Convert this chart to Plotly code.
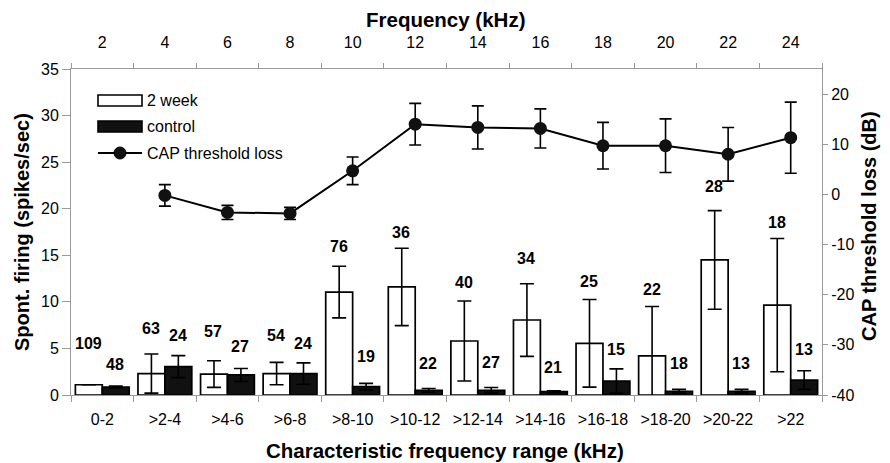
import plotly.graph_objects as go

categories = ["0-2", ">2-4", ">4-6", ">6-8", ">8-10", ">10-12", ">12-14",
              ">14-16", ">16-18", ">18-20", ">20-22", ">22"]
week2_rate = [1.1, 2.3, 2.25, 2.3, 11.05, 11.6, 5.8, 8.05, 5.55, 4.2, 14.5, 9.65]
week2_err = [0.0, 2.1, 1.43, 1.2, 2.77, 4.15, 4.3, 3.9, 4.7, 5.3, 5.3, 7.15]
control_rate = [0.85, 3.05, 2.15, 2.3, 0.9, 0.5, 0.5, 0.36, 1.5, 0.4, 0.4, 1.6]
control_err = [0.1, 1.18, 0.7, 1.15, 0.35, 0.2, 0.3, 0.1, 1.3, 0.2, 0.2, 1.0]
week2_n = [109, 63, 57, 54, 76, 36, 40, 34, 25, 22, 28, 18]
control_n = [48, 24, 27, 24, 19, 22, 27, 21, 15, 18, 13, 13]

cap_freq = [4, 6, 8, 10, 12, 14, 16, 18, 20, 22, 24]
cap_loss = [-0.2, -3.6, -3.8, 4.7, 14.0, 13.35, 13.15, 9.7, 9.7, 8.0, 11.3]
cap_err = [2.15, 1.4, 1.2, 2.75, 4.15, 4.3, 3.9, 4.65, 5.35, 5.35, 7.1]

top_ticks = [2, 4, 6, 8, 10, 12, 14, 16, 18, 20, 22, 24]
right_ticks = [-40, -30, -20, -10, 0, 10, 20]

# label pixel offsets above error-bar tops (style only)
white_shift = [41, 26, 29, 27, 20, 16, 18, 25, 18, 17, 24, 16]
black_shift = [22, 20, 22, 19, 27, 25, 25, 23, 19, 26, 26, 21]

FONT = "Liberation Sans, Arial, sans-serif"
AX = "#9a9a9a"

W, H = 890, 463
L, R, T, B = 71, 68, 69, 68
pw, ph = W - L - R, H - T - B


def px2paper(x, y):
    return (x - L) / pw, (H - B - y) / ph


fig = go.Figure()
fig.add_trace(go.Bar(
    x=categories, y=week2_rate, name="2 week",
    marker=dict(color="white", line=dict(color="black", width=1.7)),
    error_y=dict(type="data", array=week2_err, color="black", thickness=1.6, width=7),
    showlegend=False,
))
fig.add_trace(go.Bar(
    x=categories, y=control_rate, name="control",
    marker=dict(color="#111111", line=dict(color="black", width=1.7)),
    error_y=dict(type="data", array=control_err, color="black", thickness=1.6, width=7),
    showlegend=False,
))
fig.add_trace(go.Scatter(
    x=cap_freq, y=cap_loss, xaxis="x2", yaxis="y2", mode="lines+markers",
    name="CAP threshold loss",
    line=dict(color="black", width=2),
    marker=dict(color="#111111", size=13, symbol="circle"),
    error_y=dict(type="data", array=cap_err, color="black", thickness=1.6, width=6),
    showlegend=False,
))

annotations = []
for i, c in enumerate(categories):
    annotations.append(dict(
        x=c, y=week2_rate[i] + week2_err[i], xref="x", yref="y",
        text=str(week2_n[i]), showarrow=False, xshift=-14, yshift=white_shift[i],
        font=dict(family=FONT, size=16, color="black", weight="bold"),
        yanchor="middle", xanchor="center"))
    annotations.append(dict(
        x=c, y=control_rate[i] + control_err[i], xref="x", yref="y",
        text=str(control_n[i]), showarrow=False, xshift=13, yshift=black_shift[i],
        font=dict(family=FONT, size=16, color="black", weight="bold"),
        yanchor="middle", xanchor="center"))

# axis titles
for (px, py, txt, ang, sz) in [(445, 20, "Frequency (kHz)", 0, 20.5),
                               (445, 450, "Characteristic frequency range (kHz)", 0, 20.5),
                               (22, 232, "Spont. firing (spikes/sec)", -90, 20),
                               (869, 226, "CAP threshold loss (dB)", -90, 20)]:
    xp, yp = px2paper(px, py)
    annotations.append(dict(x=xp, y=yp, xref="paper", yref="paper", text=txt,
                            showarrow=False, textangle=ang,
                            font=dict(family=FONT, size=sz, color="black", weight="bold"),
                            xanchor="center", yanchor="middle"))

# manual legend
shapes = []
legend_items = [("2 week", 100.5), ("control", 126.5), ("CAP threshold loss", 153)]
x0, y0 = px2paper(98, 95)
x1, y1 = px2paper(142, 106)
shapes.append(dict(type="rect", xref="paper", yref="paper", x0=x0, x1=x1, y0=y1, y1=y0,
                   fillcolor="white", line=dict(color="black", width=1.6)))
x0, y0 = px2paper(98, 121)
x1, y1 = px2paper(142, 132)
shapes.append(dict(type="rect", xref="paper", yref="paper", x0=x0, x1=x1, y0=y1, y1=y0,
                   fillcolor="#111111", line=dict(color="black", width=1.6)))
x0, y0 = px2paper(98, 153)
x1, _ = px2paper(142, 153)
shapes.append(dict(type="line", xref="paper", yref="paper", x0=x0, x1=x1, y0=y0, y1=y0,
                   line=dict(color="black", width=2)))
cx0, cy0 = px2paper(114, 147)
cx1, cy1 = px2paper(126, 159)
shapes.append(dict(type="circle", xref="paper", yref="paper", x0=cx0, x1=cx1, y0=cy1, y1=cy0,
                   fillcolor="#111111", line=dict(color="black", width=1)))
for txt, py in legend_items:
    xp, yp = px2paper(145, py)
    annotations.append(dict(x=xp, y=yp, xref="paper", yref="paper", text=txt,
                            showarrow=False, xanchor="left", yanchor="middle",
                            font=dict(family=FONT, size=16, color="black")))

tick_font = dict(family=FONT, size=16, color="black")

fig.update_layout(
    width=W, height=H,
    margin=dict(l=L, r=R, t=T, b=B, autoexpand=False),
    paper_bgcolor="white", plot_bgcolor="white",
    barmode="group", bargap=0.14, bargroupgap=0.0,
    showlegend=False,
    font=dict(family=FONT, color="black"),
    xaxis=dict(
        type="category", range=[-0.5, 11.5], tickson="boundaries",
        ticks="outside", ticklen=6, tickcolor=AX, tickwidth=1,
        showline=True, linecolor=AX, linewidth=1,
        showgrid=False, zeroline=False, tickfont=tick_font,
        ticklabelstandoff=10,
    ),
    xaxis2=dict(
        overlaying="x", side="top", anchor="y", range=[1, 25],
        tickmode="array", tickvals=top_ticks, ticktext=[str(v) for v in top_ticks],
        ticks="", showline=True, linecolor=AX, linewidth=1,
        showgrid=False, zeroline=False, tickfont=tick_font,
        ticklabelstandoff=14,
        minor=dict(tickmode="linear", tick0=1, dtick=2, ticks="outside",
                   ticklen=5, tickcolor=AX, tickwidth=1, showgrid=False),
    ),
    yaxis=dict(
        range=[0, 35], tickmode="linear", tick0=0, dtick=5,
        ticks="outside", ticklen=8, tickcolor=AX, tickwidth=1,
        showline=True, linecolor=AX, linewidth=1,
        showgrid=False, zeroline=False, tickfont=tick_font,
    ),
    yaxis2=dict(
        overlaying="y", side="right", anchor="x", range=[-40, 25],
        tickmode="array", tickvals=right_ticks,
        ticktext=[str(v) for v in right_ticks],
        ticks="outside", ticklen=5, tickcolor=AX, tickwidth=1,
        showline=True, linecolor=AX, linewidth=1,
        showgrid=False, zeroline=False, tickfont=tick_font,
    ),
    annotations=annotations,
    shapes=shapes,
)

fig.write_html("out.html")
